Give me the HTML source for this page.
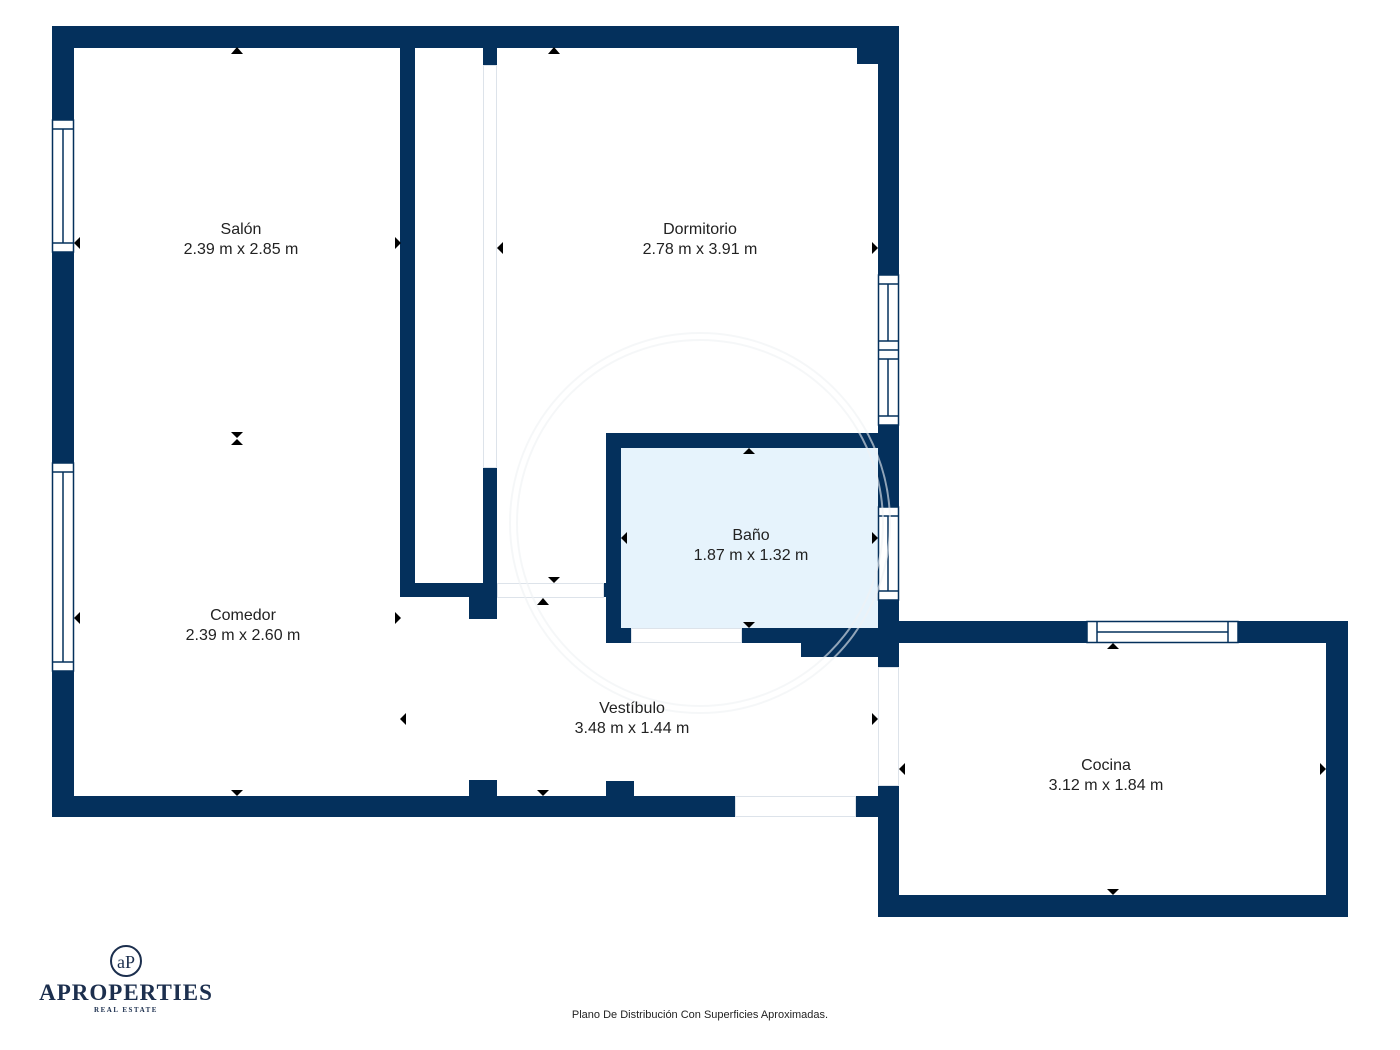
<!DOCTYPE html>
<html><head><meta charset="utf-8"><style>
html,body{margin:0;padding:0;background:#fff;}
svg{display:block;}
text{font-family:"Liberation Sans",sans-serif;}
</style></head><body>
<svg width="1400" height="1050" viewBox="0 0 1400 1050" xmlns="http://www.w3.org/2000/svg">
<g fill="#04305c">
<rect x="52" y="26" width="847" height="22"/>
<rect x="52" y="26" width="22" height="791"/>
<rect x="52" y="796" width="683" height="21"/>
<rect x="855" y="796" width="44" height="21"/>
<rect x="878" y="26" width="21" height="249"/>
<rect x="857" y="26" width="42" height="38"/>
<rect x="878" y="425" width="21" height="82"/>
<rect x="878" y="600" width="21" height="67"/>
<rect x="400" y="48" width="15" height="549"/>
<rect x="400" y="583" width="97" height="14"/>
<rect x="483" y="48" width="14" height="17"/>
<rect x="483" y="467" width="14" height="130"/>
<rect x="469" y="597" width="28" height="22"/>
<rect x="606" y="433" width="293" height="15"/>
<rect x="606" y="433" width="15" height="210"/>
<rect x="606" y="628" width="25" height="15"/>
<rect x="741" y="628" width="158" height="15"/>
<rect x="801" y="628" width="98" height="29"/>
<rect x="603" y="583" width="6" height="14"/>
<rect x="469" y="780" width="28" height="16"/>
<rect x="606" y="781" width="28" height="15"/>
<rect x="878" y="621" width="209" height="22"/>
<rect x="1238" y="621" width="110" height="22"/>
<rect x="1326" y="621" width="22" height="296"/>
<rect x="878" y="895" width="470" height="22"/>
<rect x="878" y="785" width="21" height="132"/>
</g>
<rect x="621" y="448" width="257" height="180" fill="#e6f3fc"/>
<g fill="none" stroke="#dde3ea" stroke-width="1">
<rect x="483.5" y="65.5" width="13" height="402"/>
<rect x="497.5" y="583.5" width="106" height="14"/>
<rect x="631.5" y="628.5" width="110" height="14"/>
<rect x="735.5" y="796.5" width="120" height="20"/>
<rect x="878.5" y="667.5" width="20" height="118"/>
</g>
<g fill="#fff" stroke="#04305c" stroke-width="1.5">
<rect x="52.5" y="120" width="21" height="132"/>
<line x1="52" y1="129" x2="74" y2="129"/><line x1="52" y1="243" x2="74" y2="243"/><line x1="63" y1="129" x2="63" y2="243"/>
<rect x="52.5" y="463" width="21" height="208"/>
<line x1="52" y1="472" x2="74" y2="472"/><line x1="52" y1="662" x2="74" y2="662"/><line x1="63" y1="472" x2="63" y2="662"/>
<rect x="878.5" y="275" width="20" height="150"/>
<line x1="878" y1="284" x2="899" y2="284"/><line x1="878" y1="341" x2="899" y2="341"/><line x1="878" y1="350" x2="899" y2="350"/><line x1="878" y1="359" x2="899" y2="359"/><line x1="878" y1="416" x2="899" y2="416"/>
<line x1="888" y1="284" x2="888" y2="341"/><line x1="888" y1="359" x2="888" y2="416"/>
<rect x="878.5" y="507" width="20" height="93"/>
<line x1="878" y1="516" x2="899" y2="516"/><line x1="878" y1="591" x2="899" y2="591"/><line x1="888" y1="516" x2="888" y2="591"/>
<rect x="1087" y="621.5" width="151" height="21"/>
<line x1="1097" y1="621" x2="1097" y2="643"/><line x1="1228" y1="621" x2="1228" y2="643"/><line x1="1097" y1="632" x2="1228" y2="632"/>
</g>
<g fill="none" stroke="#f0f2f5" stroke-width="2" opacity="0.6">
<circle cx="700" cy="523" r="190"/><circle cx="700" cy="523" r="183"/>
</g>
<g fill="#000">
<path d="M231,54 L243,54 L237,47Z"/>
<path d="M231,432 L243,432 L237,438Z M231,445 L243,445 L237,439Z"/>
<path d="M80,237 L80,249 L74,243Z"/>
<path d="M395,237 L395,249 L401,243Z"/>
<path d="M548,54 L560,54 L554,47Z"/>
<path d="M503,242 L503,254 L497,248Z"/>
<path d="M872,242 L872,254 L878,248Z"/>
<path d="M743,454 L755,454 L749,448Z"/>
<path d="M743,622 L755,622 L749,628Z"/>
<path d="M627,532 L627,544 L621,538Z"/>
<path d="M872,532 L872,544 L878,538Z"/>
<path d="M548,577 L560,577 L554,583Z"/>
<path d="M537,605 L549,605 L543,598Z"/>
<path d="M80,612 L80,624 L74,618Z"/>
<path d="M395,612 L395,624 L401,618Z"/>
<path d="M231,790 L243,790 L237,796Z"/>
<path d="M406,713 L406,725 L400,719Z"/>
<path d="M872,713 L872,725 L878,719Z"/>
<path d="M537,790 L549,790 L543,796Z"/>
<path d="M1107,649 L1119,649 L1113,643Z"/>
<path d="M1107,889 L1119,889 L1113,895Z"/>
<path d="M905,763 L905,775 L899,769Z"/>
<path d="M1320,763 L1320,775 L1326,769Z"/>
</g>
<g font-size="16" fill="#222" text-anchor="middle">
<text x="241" y="234">Salón</text><text x="241" y="254">2.39 m x 2.85 m</text>
<text x="700" y="234">Dormitorio</text><text x="700" y="254">2.78 m x 3.91 m</text>
<text x="751" y="540">Baño</text><text x="751" y="560">1.87 m x 1.32 m</text>
<text x="243" y="620">Comedor</text><text x="243" y="640">2.39 m x 2.60 m</text>
<text x="632" y="713">Vestíbulo</text><text x="632" y="733">3.48 m x 1.44 m</text>
<text x="1106" y="770">Cocina</text><text x="1106" y="790">3.12 m x 1.84 m</text>
</g>
<text x="700" y="1018" font-size="11" fill="#222" text-anchor="middle">Plano De Distribución Con Superficies Aproximadas.</text>
<circle cx="126" cy="961" r="15" fill="none" stroke="#1c2f4e" stroke-width="2"/>
<text x="126" y="968" style="font-family:'Liberation Serif',serif" font-size="18" fill="#1c2f4e" text-anchor="middle">aP</text>
<text x="126" y="1000" style="font-family:'Liberation Serif',serif" font-size="23" font-weight="bold" fill="#1c2f4e" text-anchor="middle" letter-spacing="1">APROPERTIES</text>
<text x="126" y="1012" style="font-family:'Liberation Serif',serif" font-size="7" font-weight="bold" fill="#1c2f4e" text-anchor="middle" letter-spacing="1.5">REAL ESTATE</text>
</svg>
</body></html>
